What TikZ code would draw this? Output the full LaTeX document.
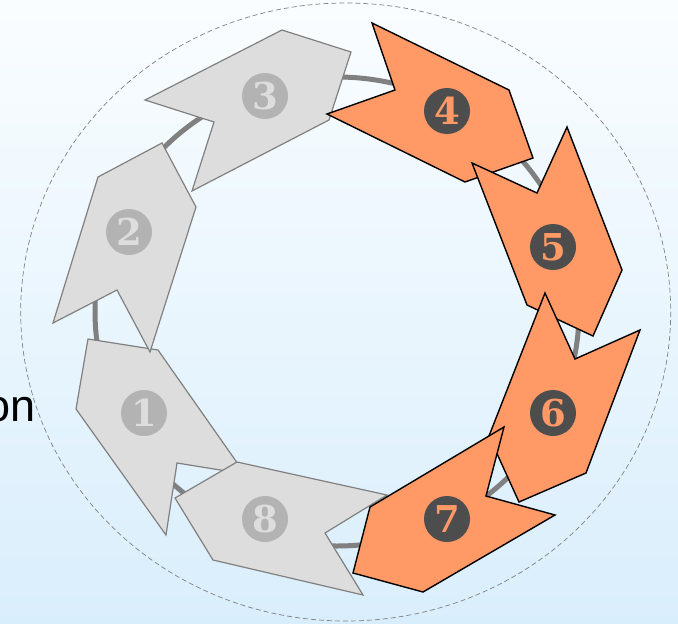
\documentclass[tikz,border=0pt]{standalone}
\usepackage{fontspec}
\setmainfont{DejaVu Serif}
\newfontfamily\wordfont{Liberation Sans}
\definecolor{bgtop}{RGB}{250,253,255}
\definecolor{bgbottom}{RGB}{217,238,252}
\definecolor{stepfill}{RGB}{255,153,102}
\definecolor{stepdark}{RGB}{77,77,77}
\definecolor{pastfill}{RGB}{221,221,221}
\definecolor{pastbadge}{RGB}{179,179,179}
\definecolor{ringgray}{RGB}{128,128,128}
\tikzset{
  pastarrow/.style={fill=pastfill, draw=ringgray, line width=1.2pt},
  nextarrow/.style={fill=stepfill, draw=black, line width=1.4pt},
  pastnum/.style={circle, fill=pastbadge, text=pastfill, inner sep=0pt,
    minimum size=46pt, font=\fontsize{37}{37}\selectfont\bfseries},
  nextnum/.style={circle, fill=stepdark, text=stepfill, inner sep=0pt,
    minimum size=46pt, font=\fontsize{37}{37}\selectfont\bfseries}
}
\begin{document}
\begin{tikzpicture}[x=1pt,y=-1pt]
  \useasboundingbox (0,0) rectangle (678,624);
  \shade[top color=bgtop, bottom color=bgbottom] (0,0) rectangle (678,624);
  \node[font=\wordfont\fontsize{45}{45}\selectfont, anchor=base east, inner sep=0pt] (word) at (36,421) {on};
  \draw[ringgray, line width=0.7pt, dash pattern=on 5pt off 3pt] (345.7,312) ellipse [x radius=325, y radius=309];
  \draw[ringgray, line width=5pt] (337,311.5) ellipse [x radius=242, y radius=234.5];
  % arrows, 8 sits on 1 and under 7
  \filldraw[pastarrow] (88,339) -- (158,350) -- (245,474) -- (177,463) -- (166,535) -- (76,409) -- cycle;
  \filldraw[pastarrow] (387,495) -- (325,533) -- (363,595) -- (213,560) -- (175,498) -- (237,462) -- cycle;
  \filldraw[pastarrow] (98,177) -- (162,143) -- (196,207) -- (150,352) -- (117,290) -- (53,323) -- cycle;
  \filldraw[pastarrow] (145,100) -- (282,30) -- (351,52) -- (329,120) -- (192,191) -- (214,122) -- cycle;
  \filldraw[nextarrow] (372,23) -- (509,90) -- (533,158) -- (465,182) -- (327,114) -- (395,90) -- cycle;
  \filldraw[nextarrow] (472,163) -- (537,193) -- (567,127) -- (622,270) -- (593,336) -- (527,305) -- cycle;
  \filldraw[nextarrow] (545,293) -- (575,359) -- (640,330) -- (586,473) -- (519,502) -- (489,436) -- cycle;
  \filldraw[nextarrow] (504,427) -- (486,496) -- (555,515) -- (423,592) -- (353,573) -- (370,507) -- cycle;
  % numbers
  \node[pastnum] (n1) at (144,413) {1};
  \node[pastnum] (n2) at (129,232) {2};
  \node[pastnum] (n3) at (265,96) {3};
  \node[nextnum] (n4) at (447,111) {4};
  \node[nextnum] (n5) at (553,247) {5};
  \node[nextnum] (n6) at (553,413) {6};
  \node[nextnum] (n7) at (447,519) {7};
  \node[pastnum] (n8) at (265,519) {8};
\end{tikzpicture}
\end{document}
